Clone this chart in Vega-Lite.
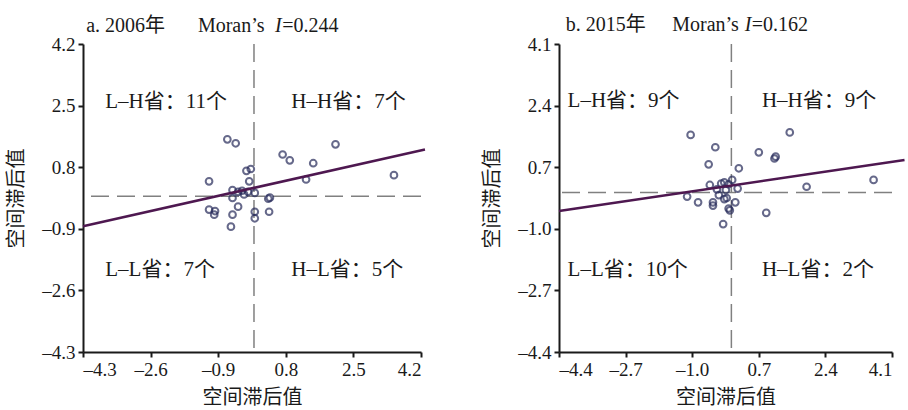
{
  "$schema": "https://vega.github.io/schema/vega-lite/v6.json",
  "background": "white",
  "padding": {"left": 6, "top": 14, "right": 0, "bottom": 4},
  "spacing": 52,
  "config": {
    "view": {"stroke": null},
    "font": "Liberation Serif, Noto Sans CJK SC",
    "axis": {
      "grid": false,
      "domainColor": "#1a1a1a",
      "domainWidth": 2,
      "tickColor": "#1a1a1a",
      "tickWidth": 2,
      "tickSize": 5,
      "labelFont": "Liberation Serif",
      "labelFontSize": 19,
      "labelColor": "#1a1a1a",
      "labelPadding": 3,
      "titleFont": "Noto Sans CJK SC",
      "titleFontSize": 20,
      "titleFontWeight": "normal",
      "titleColor": "#1a1a1a",
      "labelExpr": "datum.value < 0 ? '–' + format(-datum.value, '.1f') : format(datum.value, '.1f')"
    },
    "text": {"font": "Liberation Serif, Noto Sans CJK SC", "fontSize": 21, "color": "#1a1a1a"}
  },
  "datasets": {
    "one": [{}],
    "a": [
      {"x": -0.67, "y": 1.57}, {"x": -0.46, "y": 1.46}, {"x": 0.72, "y": 1.15}, {"x": 0.9, "y": 0.99},
      {"x": 2.05, "y": 1.43}, {"x": 1.49, "y": 0.91}, {"x": 3.52, "y": 0.58}, {"x": 1.31, "y": 0.46},
      {"x": -0.19, "y": 0.7}, {"x": -0.08, "y": 0.75}, {"x": -1.13, "y": 0.41}, {"x": -0.12, "y": 0.41},
      {"x": -0.54, "y": 0.17}, {"x": -0.4, "y": 0.12}, {"x": -0.15, "y": 0.12}, {"x": 0.02, "y": 0.09},
      {"x": -0.3, "y": 0.15}, {"x": -0.25, "y": 0.05},
      {"x": -0.54, "y": -0.05}, {"x": -1.13, "y": -0.37}, {"x": -0.98, "y": -0.41}, {"x": -1.0, "y": -0.51},
      {"x": -0.4, "y": -0.29}, {"x": -0.54, "y": -0.51}, {"x": -0.58, "y": -0.84},
      {"x": 0.36, "y": -0.07}, {"x": 0.4, "y": -0.04}, {"x": 0.02, "y": -0.43}, {"x": 0.02, "y": -0.61}, {"x": 0.38, "y": -0.43}
    ],
    "b": [
      {"x": 1.49, "y": 1.66}, {"x": 0.7, "y": 1.11}, {"x": 1.1, "y": 0.94}, {"x": 1.13, "y": 0.99},
      {"x": 0.19, "y": 0.67}, {"x": 3.63, "y": 0.35}, {"x": 1.92, "y": 0.16}, {"x": 0.02, "y": 0.35}, {"x": 0.16, "y": 0.11},
      {"x": -1.04, "y": 1.59}, {"x": -0.41, "y": 1.25}, {"x": -0.58, "y": 0.78}, {"x": -0.55, "y": 0.21},
      {"x": -0.26, "y": 0.25}, {"x": -0.18, "y": 0.28}, {"x": -0.07, "y": 0.23}, {"x": -0.37, "y": 0.09}, {"x": -0.14, "y": 0.07},
      {"x": -1.13, "y": -0.11}, {"x": -0.85, "y": -0.27}, {"x": -0.47, "y": -0.27}, {"x": -0.47, "y": -0.36},
      {"x": -0.07, "y": -0.44}, {"x": -0.21, "y": -0.87}, {"x": -0.18, "y": -0.18}, {"x": -0.04, "y": -0.49},
      {"x": -0.32, "y": -0.07}, {"x": -0.12, "y": -0.15},
      {"x": 0.89, "y": -0.56}, {"x": 0.1, "y": -0.27}
    ],
    "fitA": [{"x": -4.3, "y": -0.83}, {"x": 4.3, "y": 1.29}],
    "fitB": [{"x": -4.4, "y": -0.51}, {"x": 4.42, "y": 0.9}]
  },
  "hconcat": [
    {
      "width": 338,
      "height": 308,
      "layer": [
        {"data": {"name": "one"}, "mark": {"type": "rule", "color": "#808080", "strokeWidth": 1.5, "strokeDash": [18, 8]}, "encoding": {"x": {"datum": 0}}},
        {"data": {"name": "one"}, "mark": {"type": "rule", "color": "#808080", "strokeWidth": 1.5, "strokeDash": [18, 8]}, "encoding": {"y": {"datum": 0}}},
        {
          "data": {"name": "a"},
          "mark": {"type": "point", "shape": "circle", "filled": false, "size": 45, "strokeWidth": 2, "color": "#262a5a"},
          "encoding": {
            "x": {"field": "x", "type": "quantitative", "scale": {"domain": [-4.3, 4.2], "nice": false, "zero": false},
                  "axis": {"values": [-4.3, -2.6, -0.9, 0.8, 2.5, 4.2], "title": "空间滞后值", "titlePadding": 8}},
            "y": {"field": "y", "type": "quantitative", "scale": {"domain": [-4.3, 4.2], "nice": false, "zero": false},
                  "axis": {"values": [-4.3, -2.6, -0.9, 0.8, 2.5, 4.2], "title": "空间滞后值", "titlePadding": 15}}
          }
        },
        {
          "data": {"name": "fitA"},
          "mark": {"type": "line", "color": "#4e1850", "strokeWidth": 2.5},
          "encoding": {
            "x": {"field": "x", "type": "quantitative", "title": "空间滞后值"},
            "y": {"field": "y", "type": "quantitative", "title": "空间滞后值"}
          }
        },
        {"data": {"name": "one"}, "mark": {"type": "text", "align": "left", "baseline": "alphabetic", "fontSize": 20, "text": "a. 2006年"}, "encoding": {"x": {"datum": -4.22}, "y": {"datum": 4.53}}},
        {"data": {"name": "one"}, "mark": {"type": "text", "align": "left", "baseline": "alphabetic", "fontSize": 20, "text": "Moran’s"}, "encoding": {"x": {"datum": -1.41}, "y": {"datum": 4.53}}},
        {"data": {"name": "one"}, "mark": {"type": "text", "align": "left", "baseline": "alphabetic", "fontSize": 20, "fontStyle": "italic", "text": "I"}, "encoding": {"x": {"datum": 0.53}, "y": {"datum": 4.53}}},
        {"data": {"name": "one"}, "mark": {"type": "text", "align": "left", "baseline": "alphabetic", "fontSize": 20, "text": "=0.244"}, "encoding": {"x": {"datum": 0.71}, "y": {"datum": 4.53}}},
        {"data": {"name": "one"}, "mark": {"type": "text", "align": "left", "baseline": "middle", "text": "L–H省：11个"}, "encoding": {"x": {"datum": -3.74}, "y": {"datum": 2.6}}},
        {"data": {"name": "one"}, "mark": {"type": "text", "align": "left", "baseline": "middle", "text": "H–H省：7个"}, "encoding": {"x": {"datum": 0.94}, "y": {"datum": 2.6}}},
        {"data": {"name": "one"}, "mark": {"type": "text", "align": "left", "baseline": "middle", "text": "L–L省：7个"}, "encoding": {"x": {"datum": -3.74}, "y": {"datum": -2.05}}},
        {"data": {"name": "one"}, "mark": {"type": "text", "align": "left", "baseline": "middle", "text": "H–L省：5个"}, "encoding": {"x": {"datum": 0.94}, "y": {"datum": -2.05}}}
      ]
    },
    {
      "width": 333,
      "height": 308,
      "layer": [
        {"data": {"name": "one"}, "mark": {"type": "rule", "color": "#808080", "strokeWidth": 1.5, "strokeDash": [18, 8]}, "encoding": {"x": {"datum": 0}}},
        {"data": {"name": "one"}, "mark": {"type": "rule", "color": "#808080", "strokeWidth": 1.5, "strokeDash": [18, 8]}, "encoding": {"y": {"datum": 0}}},
        {
          "data": {"name": "b"},
          "mark": {"type": "point", "shape": "circle", "filled": false, "size": 45, "strokeWidth": 2, "color": "#262a5a"},
          "encoding": {
            "x": {"field": "x", "type": "quantitative", "scale": {"domain": [-4.4, 4.1], "nice": false, "zero": false},
                  "axis": {"values": [-4.4, -2.7, -1.0, 0.7, 2.4, 4.1], "title": "空间滞后值", "titlePadding": 8}},
            "y": {"field": "y", "type": "quantitative", "scale": {"domain": [-4.4, 4.1], "nice": false, "zero": false},
                  "axis": {"values": [-4.4, -2.7, -1.0, 0.7, 2.4, 4.1], "title": "空间滞后值", "titlePadding": 15}}
          }
        },
        {
          "data": {"name": "fitB"},
          "mark": {"type": "line", "color": "#4e1850", "strokeWidth": 2.5},
          "encoding": {
            "x": {"field": "x", "type": "quantitative", "title": "空间滞后值"},
            "y": {"field": "y", "type": "quantitative", "title": "空间滞后值"}
          }
        },
        {"data": {"name": "one"}, "mark": {"type": "text", "align": "left", "baseline": "alphabetic", "fontSize": 20, "text": "b. 2015年"}, "encoding": {"x": {"datum": -4.23}, "y": {"datum": 4.47}}},
        {"data": {"name": "one"}, "mark": {"type": "text", "align": "left", "baseline": "alphabetic", "fontSize": 20, "text": "Moran’s"}, "encoding": {"x": {"datum": -1.51}, "y": {"datum": 4.47}}},
        {"data": {"name": "one"}, "mark": {"type": "text", "align": "left", "baseline": "alphabetic", "fontSize": 20, "fontStyle": "italic", "text": "I"}, "encoding": {"x": {"datum": 0.34}, "y": {"datum": 4.47}}},
        {"data": {"name": "one"}, "mark": {"type": "text", "align": "left", "baseline": "alphabetic", "fontSize": 20, "text": "=0.162"}, "encoding": {"x": {"datum": 0.52}, "y": {"datum": 4.47}}},
        {"data": {"name": "one"}, "mark": {"type": "text", "align": "left", "baseline": "middle", "text": "L–H省：9个"}, "encoding": {"x": {"datum": -4.18}, "y": {"datum": 2.52}}},
        {"data": {"name": "one"}, "mark": {"type": "text", "align": "left", "baseline": "middle", "text": "H–H省：9个"}, "encoding": {"x": {"datum": 0.78}, "y": {"datum": 2.52}}},
        {"data": {"name": "one"}, "mark": {"type": "text", "align": "left", "baseline": "middle", "text": "L–L省：10个"}, "encoding": {"x": {"datum": -4.18}, "y": {"datum": -2.14}}},
        {"data": {"name": "one"}, "mark": {"type": "text", "align": "left", "baseline": "middle", "text": "H–L省：2个"}, "encoding": {"x": {"datum": 0.78}, "y": {"datum": -2.14}}}
      ]
    }
  ]
}
